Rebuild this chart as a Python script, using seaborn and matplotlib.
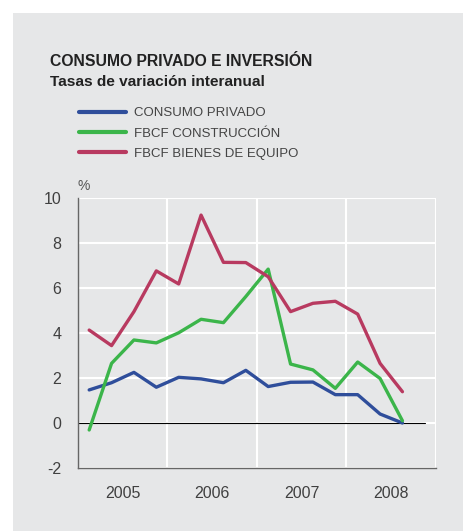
import numpy as np
import pandas as pd
import matplotlib.pyplot as plt
import seaborn as sns
from matplotlib.lines import Line2D
from matplotlib.patches import Rectangle

# Quarterly data, 2005 T1 to 2008 T3
quarters = ["2005-T1", "2005-T2", "2005-T3", "2005-T4",
            "2006-T1", "2006-T2", "2006-T3", "2006-T4",
            "2007-T1", "2007-T2", "2007-T3", "2007-T4",
            "2008-T1", "2008-T2", "2008-T3"]
consumo = [1.47, 1.79, 2.25, 1.59, 2.03, 1.96, 1.79, 2.34,
           1.62, 1.81, 1.82, 1.26, 1.26, 0.40, 0.0]
construccion = [-0.31, 2.65, 3.69, 3.56, 4.01, 4.61, 4.46, 5.62,
                6.84, 2.62, 2.36, 1.54, 2.71, 1.98, 0.1]
equipo = [4.13, 3.44, 4.95, 6.76, 6.18, 9.24, 7.14, 7.13,
          6.50, 4.95, 5.32, 5.41, 4.84, 2.65, 1.39]

years = ["2005", "2006", "2007", "2008"]
series_names = ["CONSUMO PRIVADO", "FBCF CONSTRUCCIÓN", "FBCF BIENES DE EQUIPO"]
colors = ["#2f4e9b", "#3bb54a", "#b83a60"]

df = pd.DataFrame({
    "pos": np.tile(np.arange(len(quarters)), 3),
    "value": consumo + construccion + equipo,
    "serie": np.repeat(series_names, len(quarters)),
})

sns.set_theme(style="white")
plt.rcParams["font.family"] = ["Liberation Sans", "DejaVu Sans"]
plt.rcParams["axes.unicode_minus"] = False

bg = "#e6e7e8"
fig = plt.figure(figsize=(4.64, 5.31), dpi=100)
# grey panel behind everything
fig.patches.append(Rectangle((13 / 464, 0), 1, 1 - 13 / 531, transform=fig.transFigure,
                             facecolor=bg, edgecolor="none", zorder=-10))

ax = fig.add_axes([78 / 464, 63 / 531, 358 / 464, 270 / 531])
ax.set_facecolor(bg)

sns.lineplot(data=df, x="pos", y="value", hue="serie", palette=colors,
             hue_order=series_names, linewidth=2.4, legend=False, ax=ax,
             zorder=3)

ax.set_xlim(-0.5, 15.5)
ax.set_ylim(-2, 10)
ax.set_yticks(np.arange(-2, 11, 2))
ax.set_xticks([1.5, 5.5, 9.5, 13.5])
ax.set_xticklabels(years)
ax.set_xticks([3.5, 7.5, 11.5, 15.5], minor=True)
ax.grid(True, which="major", axis="y", color="white", linewidth=1.5, zorder=1)
ax.grid(True, which="minor", axis="x", color="white", linewidth=1.5, zorder=1)
ax.grid(False, which="major", axis="x")
ax.set_axisbelow(True)
ax.axhline(0, xmin=0, xmax=0.97, color="black", linewidth=0.8, zorder=2)

ax.tick_params(axis="both", which="both", length=0, labelsize=11.5, colors="#404040")
ax.tick_params(axis="y", pad=12)
ax.tick_params(axis="x", pad=13)
ax.set_xlabel("")
ax.set_ylabel("")
for s in ["top", "right"]:
    ax.spines[s].set_visible(False)
for s in ["left", "bottom"]:
    ax.spines[s].set_color("#666666")
    ax.spines[s].set_linewidth(1.0)

ax.text(0.0, 1.02, "%", transform=ax.transAxes, fontsize=10, color="#555555",
        ha="left", va="bottom")

fig.text(50 / 464, 1 - 61 / 531, "CONSUMO PRIVADO E INVERSIÓN", fontsize=11.3,
         fontweight="bold", color="#222222", va="center", ha="left")
fig.text(50 / 464, 1 - 82 / 531, "Tasas de variación interanual", fontsize=11.1,
         fontweight="bold", color="#222222", va="center", ha="left")

handles = [Line2D([0], [0], color=c, linewidth=3) for c in colors]
fig.legend(handles, series_names, loc="upper left",
           bbox_to_anchor=(79 / 464, 1 - 107 / 531), frameon=False,
           fontsize=9.5, handlelength=3.6, handletextpad=0.6,
           labelspacing=0.62, borderpad=0, borderaxespad=0,
           labelcolor="#444444")

fig.savefig("out.png", dpi=100, facecolor="white")
